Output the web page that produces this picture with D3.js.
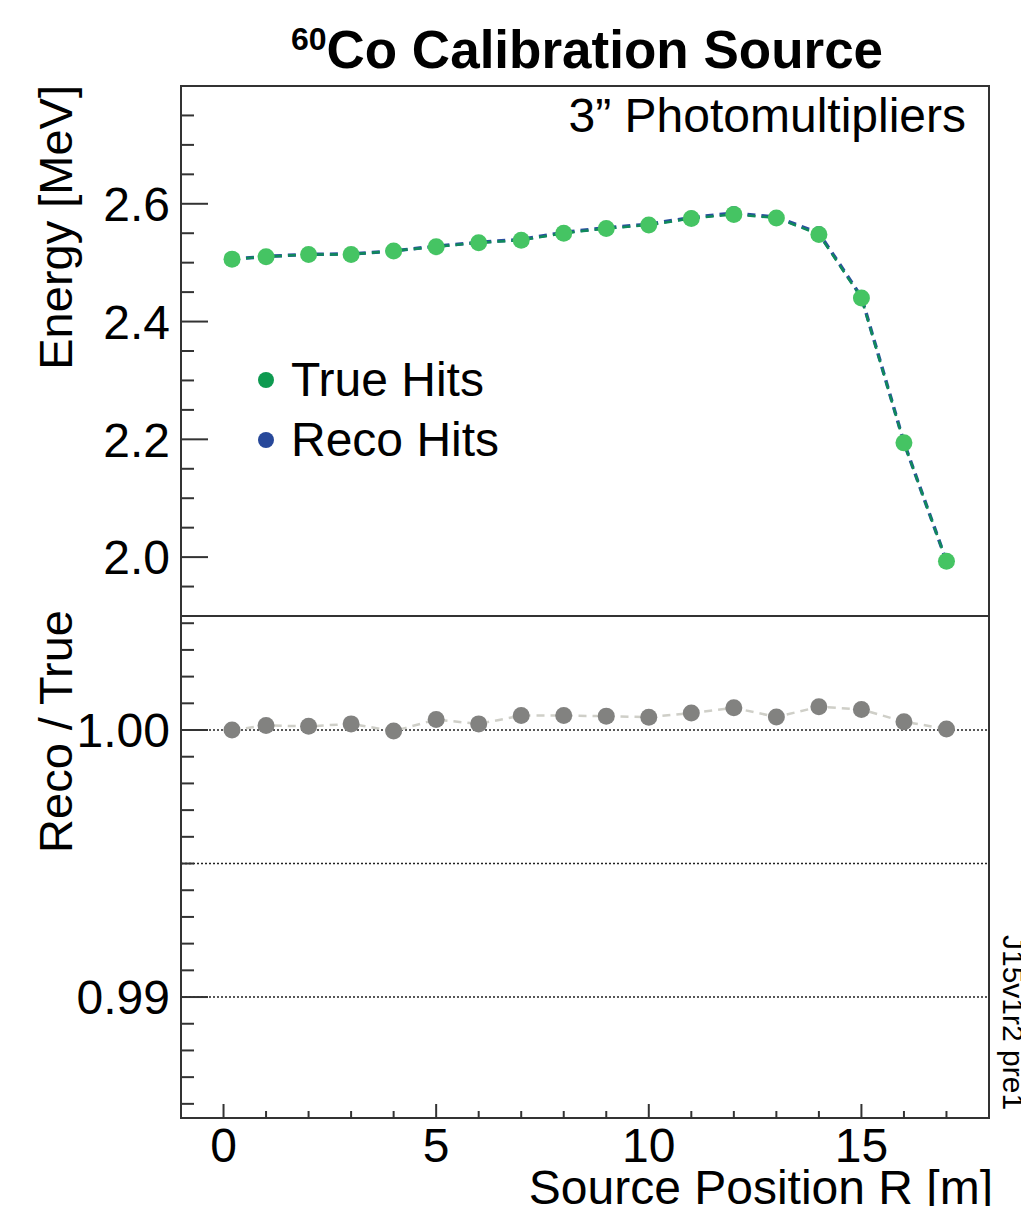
<!DOCTYPE html>
<html><head><meta charset="utf-8">
<script src="https://cdn.jsdelivr.net/npm/d3@7"></script>
<style>body{margin:0;background:#fff;} text{font-family:"Liberation Sans",Arial,sans-serif;}</style>
</head><body><svg id="c" width="1021" height="1206"></svg>
<script>
const positions = [0.2,1,2,3,4,5,6,7,8,9,10,11,12,13,14,15,16,17];
const trueHits = [2.506,2.510,2.514,2.514,2.520,2.527,2.534,2.538,2.550,2.558,2.564,2.575,2.582,2.576,2.548,2.440,2.194,1.993];
const ratio = [1.0000,1.00017,1.00014,1.00023,0.99996,1.00039,1.00023,1.00054,1.00054,1.00052,1.00048,1.00064,1.00083,1.00049,1.00087,1.00077,1.00031,1.00004];
const recoHits = trueHits.map((v,i)=>v*ratio[i]);
const xTicks = [0,5,10,15];
const topTicks = [2.0,2.2,2.4,2.6];
const botTicks = [0.99,1.00];
const refLines = [0.99,0.995,1.00];

const svg = d3.select("#c");
const L=181, R=989, T=86, M=616, B=1118;
const x = d3.scaleLinear().domain([-1,18]).range([L,R]);
const yT = d3.scaleLinear().domain([1.9,2.8]).range([M,T]);
const yB = d3.scaleLinear().domain([0.98547,1.00427]).range([B,M]);
const FS = 48;

// reference dotted lines
svg.append("g").selectAll("line").data(refLines).join("line")
  .attr("x1",L).attr("x2",R).attr("y1",d=>yB(d)).attr("y2",d=>yB(d))
  .attr("stroke","#222").attr("stroke-width",1.6).attr("stroke-dasharray","2,2");

// left axes with inward ticks
function leftTicks(scale, lo, hi, step, majors, fmt){
  const g = svg.append("g");
  const n = Math.round((hi-lo)/step);
  for(let i=0;i<=n;i++){
    const v = +(lo+i*step).toFixed(6);
    if(scale(v)<Math.min(...scale.range())-0.5||scale(v)>Math.max(...scale.range())+0.5) continue;
    const maj = majors.some(m=>Math.abs(m-v)<1e-9);
    g.append("line").attr("x1",L).attr("x2",L+(maj?27:13)).attr("y1",scale(v)).attr("y2",scale(v))
      .attr("stroke","#333").attr("stroke-width",2);
  }
  g.selectAll("text").data(majors).join("text")
    .attr("x",L-11).attr("y",d=>scale(d)).attr("dy","0.36em").attr("text-anchor","end")
    .attr("font-size",FS).attr("fill","#000").text(fmt);
}
leftTicks(yT,1.9,2.8,0.05,topTicks,d=>d.toFixed(1));
leftTicks(yB,0.986,1.004,0.001,botTicks,d=>d.toFixed(2));

// bottom x ticks
const gx = svg.append("g");
d3.range(0,18).forEach(v=>{
  const maj = xTicks.includes(v);
  gx.append("line").attr("x1",x(v)).attr("x2",x(v)).attr("y1",B).attr("y2",B-(maj?14:7))
    .attr("stroke","#333").attr("stroke-width",2);
});
gx.selectAll("text").data(xTicks).join("text").attr("x",d=>x(d)).attr("y",1162)
  .attr("text-anchor","middle").attr("font-size",FS).text(d=>d);

// frames
svg.append("rect").attr("x",L).attr("y",T).attr("width",R-L).attr("height",M-T)
  .attr("fill","none").attr("stroke","#333").attr("stroke-width",2);
svg.append("rect").attr("x",L).attr("y",M).attr("width",R-L).attr("height",B-M)
  .attr("fill","none").attr("stroke","#333").attr("stroke-width",2);

// upper series
const lineT = d3.line().x((d,i)=>x(positions[i])).y(d=>yT(d));
svg.append("path").datum(recoHits).attr("d",lineT).attr("fill","none")
  .attr("stroke","#2b4f9e").attr("stroke-width",3.5).attr("stroke-dasharray","8,6");
svg.append("path").datum(trueHits).attr("d",lineT).attr("fill","none")
  .attr("stroke","#0f8a5a").attr("stroke-width",2.5).attr("stroke-dasharray","8,6");
svg.append("g").selectAll("circle").data(recoHits).join("circle")
  .attr("cx",(d,i)=>x(positions[i])).attr("cy",d=>yT(d)).attr("r",7).attr("fill","#2b4f9e");
svg.append("g").selectAll("circle").data(trueHits).join("circle")
  .attr("cx",(d,i)=>x(positions[i])).attr("cy",d=>yT(d)).attr("r",8.5).attr("fill","#45c463");

// lower series
const lineB = d3.line().x((d,i)=>x(positions[i])).y(d=>yB(d));
svg.append("path").datum(ratio).attr("d",lineB).attr("fill","none")
  .attr("stroke","#cfcfc8").attr("stroke-width",2.5).attr("stroke-dasharray","8,6");
svg.append("g").selectAll("circle").data(ratio).join("circle")
  .attr("cx",(d,i)=>x(positions[i])).attr("cy",d=>yB(d)).attr("r",8.5).attr("fill","#828280");

// legend
const leg = [{name:"True Hits",c:"#0e9a50"},{name:"Reco Hits",c:"#27489a"}];
leg.forEach((d,i)=>{
  svg.append("circle").attr("cx",266).attr("cy",380+i*60).attr("r",8).attr("fill",d.c);
  svg.append("text").attr("x",291).attr("y",396+i*60).attr("font-size",FS).text(d.name);
});

// texts
const title = svg.append("text").attr("x",587).attr("y",68).attr("text-anchor","middle")
  .attr("font-weight","bold");
title.append("tspan").attr("font-size",32).attr("dy",-18).text("60");
title.append("tspan").attr("font-size",53).attr("dy",18).text("Co Calibration Source");
svg.append("text").attr("x",966).attr("y",132).attr("text-anchor","end").attr("font-size",FS)
  .text("3\u201D Photomultipliers");
svg.append("text").attr("transform","translate(72,85) rotate(-90)").attr("text-anchor","end")
  .attr("font-size",47).text("Energy [MeV]");
svg.append("text").attr("transform","translate(72,610) rotate(-90)").attr("text-anchor","end")
  .attr("font-size",47).text("Reco / True");
svg.append("text").attr("x",993).attr("y",1204).attr("text-anchor","end").attr("font-size",FS)
  .text("Source Position R [m]");
svg.append("text").attr("transform","translate(1003,935) rotate(90)").attr("font-size",30)
  .text("J15v1r2 pre1");
</script></body></html>
